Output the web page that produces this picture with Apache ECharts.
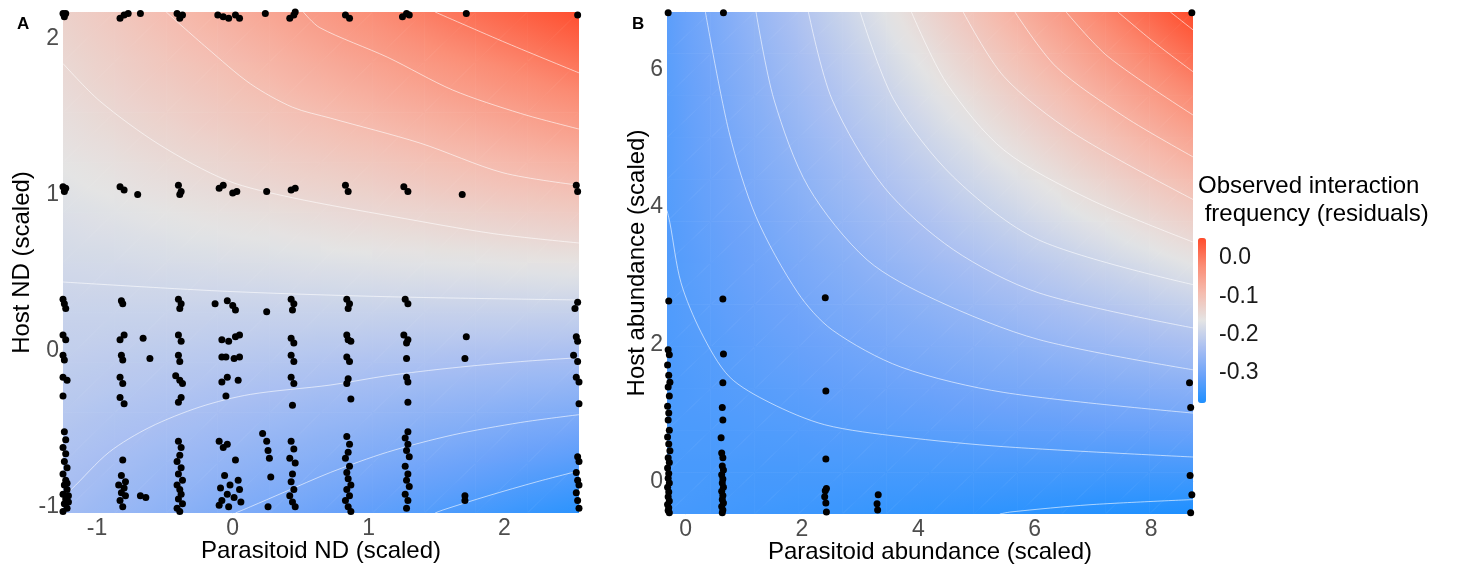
<!DOCTYPE html>
<html>
<head>
<meta charset="utf-8">
<script src="https://cdn.jsdelivr.net/npm/echarts@6/dist/echarts.min.js"></script>
<style>
html,body{margin:0;padding:0;background:#fff;}
#main{width:1464px;height:567px;}
</style>
</head>
<body>
<div id="main"></div>
<script>
var FONT = '"Liberation Sans", Arial, sans-serif';
var palette = ['#1E90FF', '#6AA2FA', '#A9BFF2', '#E4E4E4', '#F5BCAF', '#FB8C74', '#FF4B2B'];

// ---- panel A : Host ND vs Parasitoid ND ----
// surface at grid nodes; rows go bottom (y=-1.04) to top (y=2.17)
var nodesAx = [-1.25, -0.87, -0.49, -0.11, 0.27, 0.65, 1.03, 1.41, 1.79, 2.17, 2.55];
var nodesAy = [-1.04, -0.719, -0.398, -0.077, 0.244, 0.565, 0.886, 1.207, 1.528, 1.849, 2.17];
var surfA = [
  [-0.263,-0.273,-0.284,-0.295,-0.305,-0.316,-0.327,-0.337,-0.348,-0.359,-0.369],
  [-0.253,-0.261,-0.269,-0.277,-0.285,-0.293,-0.301,-0.309,-0.317,-0.326,-0.334],
  [-0.243,-0.249,-0.254,-0.260,-0.265,-0.271,-0.276,-0.282,-0.287,-0.293,-0.298],
  [-0.233,-0.236,-0.239,-0.242,-0.245,-0.248,-0.251,-0.254,-0.257,-0.260,-0.262],
  [-0.224,-0.224,-0.224,-0.225,-0.225,-0.225,-0.225,-0.226,-0.226,-0.226,-0.227],
  [-0.214,-0.212,-0.209,-0.207,-0.205,-0.202,-0.200,-0.198,-0.196,-0.193,-0.191],
  [-0.204,-0.199,-0.194,-0.189,-0.185,-0.180,-0.175,-0.170,-0.165,-0.160,-0.155],
  [-0.194,-0.187,-0.179,-0.172,-0.164,-0.157,-0.150,-0.142,-0.135,-0.127,-0.120],
  [-0.184,-0.174,-0.164,-0.154,-0.144,-0.134,-0.124,-0.114,-0.104,-0.094,-0.084],
  [-0.175,-0.162,-0.149,-0.137,-0.124,-0.111,-0.099,-0.086,-0.074,-0.061,-0.048],
  [-0.165,-0.150,-0.134,-0.119,-0.104,-0.089,-0.074,-0.058,-0.043,-0.028,-0.013]
];
var rangeA = [-0.38, -0.01];
var contoursA = [
  [[1.49,2.17],[2.02,1.97],[2.55,1.78]],
  [[0.52,2.17],[0.64,2.07],[1.14,1.88],[1.62,1.67],[2.12,1.52],[2.55,1.42]],
  [[-0.49,2.17],[-0.19,1.94],[0.13,1.71],[0.44,1.56],[0.72,1.49],[1.38,1.33],[1.99,1.14],[2.55,1.06]],
  [[-1.25,1.84],[-0.98,1.60],[-0.54,1.32],[-0.04,1.09],[0.44,0.98],[1.18,0.86],[1.92,0.75],[2.55,0.69]],
  [[-1.25,0.44],[-0.04,0.38],[1.18,0.345],[2.55,0.325]],
  [[-1.25,-0.93],[-1.19,-0.89],[-0.91,-0.65],[-0.61,-0.49],[-0.24,-0.36],[0.13,-0.28],[0.72,-0.22],[1.14,-0.16],[1.62,-0.11],[2.12,-0.07],[2.55,-0.045]],
  [[0.02,-1.04],[0.13,-1.00],[0.37,-0.91],[0.72,-0.78],[1.14,-0.65],[1.62,-0.54],[2.12,-0.46],[2.55,-0.41]],
  [[1.49,-1.04],[1.55,-1.02],[1.88,-0.93],[2.24,-0.84],[2.55,-0.77]]
];
var pointsA = [
  [-1.25,2.16],[-1.24,2.14],[-1.23,2.16],[-0.83,2.13],[-0.80,2.15],[-0.77,2.16],[-0.68,2.16],
  [-0.41,2.16],[-0.39,2.13],[-0.37,2.15],[-0.11,2.15],[-0.07,2.14],[-0.03,2.13],[0.02,2.15],[0.05,2.13],
  [0.24,2.16],[0.42,2.13],[0.45,2.15],[0.46,2.17],[0.83,2.15],[0.86,2.13],[1.25,2.14],[1.28,2.16],[1.30,2.15],
  [1.72,2.16],[2.54,2.15],
  [-1.25,1.05],[-1.24,1.02],[-1.23,1.04],[-0.83,1.05],[-0.80,1.03],[-0.70,1.00],[-0.40,1.06],[-0.38,1.02],
  [-0.39,1.00],[-0.10,1.04],[-0.07,1.06],[0.00,1.01],[0.03,1.02],[0.25,1.02],[0.43,1.03],[0.46,1.04],
  [0.83,1.06],[0.85,1.02],[1.26,1.05],[1.29,1.02],[1.69,1.00],[2.53,1.06],[2.54,1.02],
  [-1.25,0.33],[-1.24,0.30],[-1.23,0.27],[-0.82,0.32],[-0.81,0.30],[-0.40,0.33],[-0.38,0.30],[-0.39,0.27],
  [-0.13,0.30],[-0.04,0.32],[0.00,0.29],[0.02,0.26],[0.25,0.25],[0.43,0.33],[0.45,0.30],[0.44,0.26],
  [0.84,0.33],[0.86,0.30],[0.85,0.27],[1.27,0.33],[1.29,0.30],[2.54,0.31],[2.52,0.27],
  [-1.25,0.10],[-1.23,0.07],[-0.83,0.07],[-0.80,0.10],[-0.66,0.08],[-0.40,0.10],[-0.38,0.06],
  [-0.08,0.07],[-0.03,0.06],[0.02,0.09],[0.05,0.10],[0.43,0.08],[0.45,0.05],[0.84,0.10],[0.87,0.06],
  [0.85,0.07],[1.26,0.10],[1.29,0.07],[1.28,0.05],[1.72,0.09],[2.53,0.09],[2.54,0.06],
  [-1.25,-0.03],[-1.24,-0.06],[-0.82,-0.03],[-0.81,-0.06],[-0.61,-0.05],[-0.40,-0.03],[-0.39,-0.07],
  [-0.08,-0.04],[-0.05,-0.04],[0.01,-0.05],[0.05,-0.04],[0.43,-0.03],[0.45,-0.07],[0.84,-0.04],[0.86,-0.07],
  [1.28,-0.05],[1.71,-0.05],[2.51,-0.03],[2.54,-0.07],
  [-1.25,-0.17],[-1.22,-0.19],[-0.83,-0.17],[-0.81,-0.21],[-0.42,-0.16],[-0.39,-0.19],[-0.37,-0.21],
  [-0.08,-0.20],[-0.04,-0.17],[0.04,-0.19],[0.43,-0.17],[0.45,-0.21],[0.85,-0.18],[0.84,-0.21],
  [1.28,-0.17],[1.29,-0.20],[2.53,-0.17],[2.55,-0.20],
  [-1.25,-0.29],[-0.83,-0.30],[-0.80,-0.34],[-0.40,-0.33],[-0.38,-0.30],[-0.05,-0.29],[0.44,-0.35],
  [0.87,-0.31],[1.29,-0.33],[2.55,-0.34],
  [-1.24,-0.52],[-1.23,-0.57],[-1.25,-0.62],[-1.23,-0.66],[-1.24,-0.71],[-1.22,-0.75],[-1.25,-0.79],
  [-1.23,-0.83],[-1.24,-0.86],[-1.22,-0.89],[-1.25,-0.92],[-1.23,-0.95],[-1.24,-0.98],[-1.22,-1.01],
  [-1.25,-1.03],[-1.21,-0.93],[-1.21,-0.97],[-1.22,-0.85],
  [-0.81,-0.70],[-0.82,-0.80],[-0.84,-0.86],[-0.80,-0.88],[-0.82,-0.91],[-0.79,-0.93],[-0.83,-0.96],
  [-0.81,-1.00],[-0.79,-0.84],[-0.68,-0.93],[-0.64,-0.94],
  [-0.40,-0.58],[-0.38,-0.62],[-0.39,-0.67],[-0.41,-0.71],[-0.38,-0.75],[-0.40,-0.79],[-0.37,-0.83],
  [-0.41,-0.86],[-0.39,-0.89],[-0.38,-0.92],[-0.40,-0.95],[-0.37,-0.98],[-0.41,-1.01],[-0.39,-1.03],
  [-0.10,-0.58],[-0.07,-0.62],[-0.04,-0.60],[0.02,-0.70],[-0.06,-0.80],[0.04,-0.83],[-0.02,-0.86],
  [-0.09,-0.88],[0.05,-0.89],[-0.04,-0.92],[0.01,-0.94],[-0.08,-0.96],[0.06,-0.97],[-0.03,-1.00],[-0.10,-0.99],
  [0.22,-0.53],[0.25,-0.58],[0.26,-0.64],[0.27,-0.69],[0.28,-0.81],[0.26,-1.00],
  [0.43,-0.58],[0.45,-0.63],[0.42,-0.69],[0.46,-0.72],[0.44,-0.79],[0.43,-0.84],[0.45,-0.89],
  [0.42,-0.93],[0.44,-0.97],[0.46,-1.00],
  [0.84,-0.55],[0.86,-0.60],[0.85,-0.65],[0.83,-0.69],[0.86,-0.74],[0.84,-0.78],[0.85,-0.82],
  [0.87,-0.86],[0.84,-0.89],[0.86,-0.93],[0.83,-0.96],[0.85,-1.00],[0.87,-1.03],
  [1.29,-0.52],[1.27,-0.56],[1.29,-0.60],[1.28,-0.64],[1.30,-0.68],[1.27,-0.74],[1.29,-0.79],
  [1.28,-0.83],[1.30,-0.87],[1.27,-0.92],[1.29,-0.96],[1.28,-1.01],
  [1.71,-0.93],[1.71,-0.96],
  [2.54,-0.68],[2.55,-0.71],[2.53,-0.78],[2.54,-0.83],[2.55,-0.86],[2.53,-0.91],[2.54,-0.96],[2.55,-1.01]
];
var ticksAx = [-1, 0, 1, 2];
var ticksAy = [-1, 0, 1, 2];

// ---- panel B : Host abundance vs Parasitoid abundance ----
// rows go bottom (y=-0.47) to top (y=6.84)
var nodesBx = [-0.32, 0.433, 1.187, 1.94, 2.693, 3.447, 4.2, 4.953, 5.707, 6.46, 7.213, 7.967, 8.72];
var nodesBy = [-0.47, 0.139, 0.748, 1.358, 1.967, 2.576, 3.185, 3.794, 4.403, 5.013, 5.622, 6.231, 6.84];
var surfB = [
  [-0.340,-0.343,-0.346,-0.349,-0.352,-0.356,-0.359,-0.362,-0.365,-0.368,-0.372,-0.375,-0.378],
  [-0.338,-0.338,-0.339,-0.339,-0.339,-0.340,-0.340,-0.340,-0.341,-0.341,-0.342,-0.342,-0.342],
  [-0.336,-0.334,-0.331,-0.329,-0.326,-0.324,-0.321,-0.319,-0.316,-0.314,-0.311,-0.309,-0.306],
  [-0.335,-0.329,-0.324,-0.319,-0.313,-0.308,-0.303,-0.297,-0.292,-0.287,-0.281,-0.276,-0.271],
  [-0.333,-0.325,-0.317,-0.308,-0.300,-0.292,-0.284,-0.276,-0.268,-0.259,-0.251,-0.243,-0.235],
  [-0.331,-0.320,-0.309,-0.298,-0.287,-0.276,-0.265,-0.254,-0.243,-0.232,-0.221,-0.210,-0.199],
  [-0.330,-0.316,-0.302,-0.288,-0.274,-0.260,-0.246,-0.233,-0.219,-0.205,-0.191,-0.177,-0.163],
  [-0.328,-0.311,-0.295,-0.278,-0.261,-0.244,-0.228,-0.211,-0.194,-0.177,-0.161,-0.144,-0.127],
  [-0.326,-0.307,-0.287,-0.268,-0.248,-0.228,-0.209,-0.189,-0.170,-0.150,-0.131,-0.111,-0.092],
  [-0.325,-0.302,-0.280,-0.257,-0.235,-0.213,-0.190,-0.168,-0.145,-0.123,-0.101,-0.078,-0.056],
  [-0.323,-0.298,-0.272,-0.247,-0.222,-0.197,-0.171,-0.146,-0.121,-0.096,-0.070,-0.045,-0.020],
  [-0.321,-0.293,-0.265,-0.237,-0.209,-0.181,-0.153,-0.125,-0.096,-0.068,-0.040,-0.012,0.016],
  [-0.320,-0.289,-0.258,-0.227,-0.196,-0.165,-0.134,-0.103,-0.072,-0.041,-0.010,0.021,0.052]
];
var rangeB = [-0.378, 0.052];
var contoursB = [
  [[5.40,-0.47],[5.59,-0.44],[6.95,-0.335],[8.72,-0.26]],
  [[-0.32,3.95],[-0.27,3.77],[-0.08,2.90],[0.27,2.17],[0.75,1.53],[1.45,1.15],[2.39,0.83],[3.70,0.655],[5.47,0.51],[8.72,0.36]],
  [[0.34,6.84],[0.75,5.08],[1.21,3.86],[1.93,2.75],[2.52,2.21],[3.70,1.67],[5.47,1.30],[8.72,1.00]],
  [[1.21,6.84],[1.52,5.56],[2.11,4.29],[3.12,3.23],[4.29,2.65],[6.07,2.07],[8.72,1.63]],
  [[2.11,6.84],[2.52,5.56],[3.41,4.29],[4.60,3.38],[6.07,2.75],[8.72,2.24]],
  [[3.00,6.84],[3.58,5.56],[4.60,4.44],[6.07,3.52],[8.72,2.87]],
  [[3.88,6.84],[4.48,5.81],[5.47,4.83],[6.95,4.11],[8.72,3.49]],
  [[4.77,6.84],[5.47,5.90],[6.66,5.08],[8.72,4.11]],
  [[5.66,6.84],[6.37,6.04],[7.55,5.31],[8.72,4.73]],
  [[6.54,6.84],[7.26,6.19],[8.72,5.34]],
  [[7.43,6.84],[8.05,6.40],[8.72,5.97]],
  [[8.33,6.84],[8.72,6.58]]
];
var pointsB = [
  [-0.30,6.83],[-0.29,2.63],
  [-0.30,1.92],[-0.28,1.85],[-0.31,1.70],[-0.29,1.55],[-0.27,1.45],[-0.30,1.38],[-0.28,1.25],[-0.31,1.10],
  [-0.29,1.00],[-0.30,0.90],[-0.28,0.75],[-0.31,0.65],[-0.29,0.55],[-0.27,0.45],[-0.30,0.35],[-0.28,0.28],
  [-0.31,0.20],[-0.29,0.12],[-0.30,0.05],[-0.28,-0.02],[-0.31,-0.08],[-0.29,-0.15],[-0.30,-0.22],
  [-0.28,-0.28],[-0.31,-0.33],[-0.29,-0.38],[-0.30,-0.42],[-0.28,-0.45],
  [0.65,6.83],[0.64,2.66],[0.65,1.86],[0.64,1.44],[0.63,1.08],[0.64,0.90],[0.61,0.64],[0.62,0.42],[0.64,0.35],
  [0.63,0.23],[0.65,0.17],[0.62,0.10],[0.64,0.04],[0.63,-0.02],[0.65,-0.08],[0.62,-0.14],[0.64,-0.20],
  [0.63,-0.26],[0.65,-0.31],[0.62,-0.36],[0.64,-0.41],[0.63,-0.45],
  [2.40,2.68],[2.41,1.32],[2.41,0.33],[2.42,-0.10],[2.40,-0.13],[2.39,-0.22],[2.41,-0.31],[2.42,-0.44],
  [3.31,-0.19],[3.29,-0.32],[3.30,-0.41],
  [8.70,6.83],[8.66,1.44],[8.68,1.08],[8.67,0.09],[8.70,-0.19],[8.68,-0.45]
];
var ticksBx = [0, 2, 4, 6, 8];
var ticksBy = [0, 2, 4, 6];

var legendTicks = [0, -0.1, -0.2, -0.3];

function colorOf(z, range) {
  var t = (z - range[0]) / (range[1] - range[0]);
  return echarts.color.lerp(Math.max(0, Math.min(1, t)), palette);
}
// one triangle of the surface, shaded with a gradient along its slope
function triangle(pts, zs, range) {
  var e1x = pts[1][0] - pts[0][0], e1y = pts[1][1] - pts[0][1];
  var e2x = pts[2][0] - pts[0][0], e2y = pts[2][1] - pts[0][1];
  var d1 = zs[1] - zs[0], d2 = zs[2] - zs[0];
  var det = e1x * e2y - e1y * e2x;
  var gx = (d1 * e2y - d2 * e1y) / det, gy = (d2 * e1x - d1 * e2x) / det;
  var g2 = gx * gx + gy * gy;
  var zmin = Math.min(zs[0], zs[1], zs[2]), zmax = Math.max(zs[0], zs[1], zs[2]);
  var fill;
  if (g2 < 1e-14 || zmax - zmin < 1e-6) {
    fill = colorOf((zs[0] + zs[1] + zs[2]) / 3, range);
  } else {
    var s = (zmin - zs[0]) / g2, e = (zmax - zs[0]) / g2;
    var stops = [];
    for (var k = 0; k <= 4; k++) {
      stops.push({offset: k / 4, color: colorOf(zmin + (zmax - zmin) * k / 4, range)});
    }
    fill = new echarts.graphic.LinearGradient(
      pts[0][0] + gx * s, pts[0][1] + gy * s, pts[0][0] + gx * e, pts[0][1] + gy * e, stops, true);
  }
  return {type: 'polygon', shape: {points: pts}, style: {fill: fill, stroke: fill, lineWidth: 0.8}};
}
function surface(xs, ys, zs, range) {
  return function (params, api) {
    var i = api.value(0), j = api.value(1);
    var p00 = api.coord([xs[i], ys[j]]), p10 = api.coord([xs[i + 1], ys[j]]);
    var p01 = api.coord([xs[i], ys[j + 1]]), p11 = api.coord([xs[i + 1], ys[j + 1]]);
    return {
      type: 'group',
      children: [
        triangle([p00, p10, p11], [zs[j][i], zs[j][i + 1], zs[j + 1][i + 1]], range),
        triangle([p00, p11, p01], [zs[j][i], zs[j + 1][i + 1], zs[j + 1][i]], range)
      ]
    };
  };
}
function cellIndex(xs, ys) {
  var out = [];
  for (var j = 0; j < ys.length - 1; j++)
    for (var i = 0; i < xs.length - 1; i++) out.push([i, j]);
  return out;
}
function valAxis(g, min, max, ticks, name, gap) {
  return {
    type: 'value', gridIndex: g, min: min, max: max,
    name: name, nameLocation: 'middle', nameGap: gap, nameMoveOverlap: false,
    nameTextStyle: {color: '#000', fontSize: 24, fontFamily: FONT},
    axisLine: {show: true, lineStyle: {color: '#e4e4e4', width: 1}},
    axisTick: {show: true, length: 3, lineStyle: {color: '#999'}, customValues: ticks},
    axisLabel: {color: '#4d4d4d', fontSize: 23, fontFamily: FONT, margin: 4, customValues: ticks},
    splitLine: {show: false}
  };
}
function contourSeries(list, g) {
  return list.map(function (c) {
    return {
      type: 'line', xAxisIndex: g, yAxisIndex: g, data: c, smooth: 0.3, symbol: 'none', z: 2,
      silent: true, lineStyle: {color: 'rgba(255,255,255,0.75)', width: 0.8}
    };
  });
}

var myChart = echarts.init(document.getElementById('main'));

var series = [].concat(
  [{type: 'custom', xAxisIndex: 0, yAxisIndex: 0, data: cellIndex(nodesAx, nodesAy), z: 1, silent: true,
    clip: true, renderItem: surface(nodesAx, nodesAy, surfA, rangeA)}],
  contourSeries(contoursA, 0),
  [{type: 'scatter', xAxisIndex: 0, yAxisIndex: 0, data: pointsA, symbolSize: 7, z: 3,
    itemStyle: {color: '#000', opacity: 1}}],
  [{type: 'custom', xAxisIndex: 1, yAxisIndex: 1, data: cellIndex(nodesBx, nodesBy), z: 1, silent: true,
    clip: true, renderItem: surface(nodesBx, nodesBy, surfB, rangeB)}],
  contourSeries(contoursB, 1),
  [{type: 'scatter', xAxisIndex: 1, yAxisIndex: 1, data: pointsB, symbolSize: 7, z: 3,
    itemStyle: {color: '#000', opacity: 1}}]
);

var option = {
  backgroundColor: '#fff',
  animation: false,
  grid: [
    {left: 63, top: 12, width: 516, height: 501, outerBoundsMode: 'none', containLabel: false},
    {left: 667, top: 12, width: 526, height: 502, outerBoundsMode: 'none', containLabel: false},
    {left: 1198, top: 238, width: 8, height: 165, outerBoundsMode: 'none', containLabel: false}
  ],
  xAxis: [
    valAxis(0, -1.25, 2.55, ticksAx, 'Parasitoid ND (scaled)', 26),
    valAxis(1, -0.32, 8.72, ticksBx, 'Parasitoid abundance (scaled)', 26),
    {type: 'value', gridIndex: 2, show: false}
  ],
  yAxis: [
    valAxis(0, -1.04, 2.17, ticksAy, 'Host ND (scaled)', 29),
    valAxis(1, -0.47, 6.84, ticksBy, 'Host abundance (scaled)', 18),
    {
      type: 'value', gridIndex: 2, min: rangeB[0], max: rangeB[1], position: 'right',
      axisLine: {show: false}, splitLine: {show: false},
      axisTick: {show: true, inside: true, length: 2, lineStyle: {color: '#fff'}, customValues: legendTicks},
      axisLabel: {
        customValues: legendTicks, color: '#1a1a1a', fontSize: 23, fontFamily: FONT, margin: 13,
        formatter: function (v) { return v.toFixed(1); }
      }
    }
  ],
  visualMap: [{
    type: 'continuous', seriesIndex: [], min: rangeB[0], max: rangeB[1], show: true,
    calculable: false, left: 1198, top: 238, itemWidth: 8, itemHeight: 165, padding: 0,
    inRange: {color: palette}
  }],
  graphic: [
    {type: 'text', left: 17, top: 16, style: {text: 'A', fontSize: 17, fontWeight: 'bold', fontFamily: FONT, fill: '#000'}},
    {type: 'text', left: 632, top: 16, style: {text: 'B', fontSize: 17, fontWeight: 'bold', fontFamily: FONT, fill: '#000'}},
    {type: 'text', left: 1198, top: 172, style: {
      text: 'Observed interaction\n frequency (residuals)', fontSize: 24, lineHeight: 28,
      fontFamily: FONT, fill: '#000'}}
  ],
  series: series
};
myChart.setOption(option);
window.onresize = function () {
  myChart.resize();
};
</script>
</body>
</html>
